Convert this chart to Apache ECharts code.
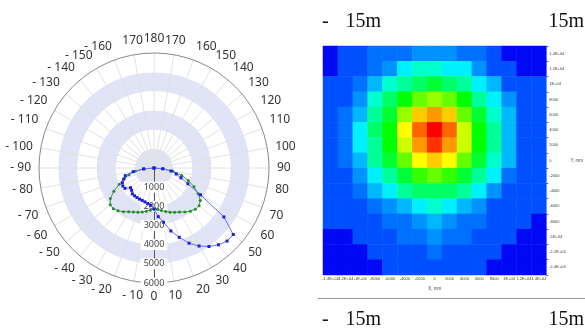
<!DOCTYPE html>
<html>
<head>
<meta charset="utf-8">
<script src="https://cdn.jsdelivr.net/npm/echarts@6/dist/echarts.min.js"></script>
<style>
  html, body { margin: 0; padding: 0; background: #fff; }
  #chart { width: 585px; height: 334px; }
</style>
</head>
<body>
<div id="chart"></div>
<script>
// 配光曲线 角度（度），负角度在左侧
const angles = [-90, -85, -80, -75, -70, -65, -60, -55, -50, -45, -40, -35, -30, -25, -20, -15, -10, -5,
  0, 5, 10, 15, 20, 25, 30, 35, 40, 45, 50, 55, 60, 65, 70, 75, 80, 85, 90];
// 绿色曲线 光强 cd
const greenCd = [0, 500, 1000, 1350, 1650, 2000, 2420, 2780, 2980, 3000, 2920, 2780, 2640, 2540, 2450, 2370, 2290, 2210,
  2140, 2180, 2250, 2350, 2450, 2550, 2650, 2800, 2950, 3050, 3070, 2950, 2650, 2300, 1900, 1500, 1000, 500, 0];
// 蓝色曲线 光强 cd
const blueCd = [0, 550, 1100, 1550, 1680, 1820, 1880, 1850, 1600, 1650, 1760, 1770, 1780, 1790, 1800, 1830, 1880, 1950,
  2140, 2550, 2870, 3400, 3850, 4330, 4700, 5000, 5230, 5390, 5400, 4450, 2800, 1950, 1500, 1200, 900, 450, 0];

// 照度分布 坐标刻度（从左到右 / 从下到上）
const xLabels = ['-1.4E+04', '-1.2E+04', '-1E+04', '-8000', '-6000', '-4000', '-2000', '0',
  '2000', '4000', '6000', '8000', '1E+04', '1.2E+04', '1.4E+04'];
const yLabels = xLabels.slice();
// 照度值，每行从上 (Y=1.4E+04) 到下 (Y=-1.4E+04)
const illumRows = [
  [5, 10, 13, 20, 22, 24, 31, 34, 31, 23, 20, 16, 5, 5, 5],
  [5, 13, 16, 21, 39, 52, 60, 62, 59, 50, 37, 19, 15, 5, 5],
  [13, 15, 21, 44, 62, 77, 87, 91, 87, 76, 59, 40, 19, 14, 11],
  [14, 18, 38, 61, 83, 101, 122, 131, 121, 100, 79, 56, 31, 16, 13],
  [15, 21, 49, 74, 98, 133, 162, 171, 161, 129, 94, 68, 42, 18, 13],
  [15, 26, 54, 80, 108, 153, 181, 201, 180, 148, 102, 74, 47, 19, 14],
  [15, 25, 53, 79, 105, 149, 177, 192, 176, 144, 101, 73, 46, 19, 14],
  [14, 20, 47, 71, 95, 125, 155, 163, 154, 121, 91, 66, 40, 18, 13],
  [14, 17, 35, 58, 79, 97, 112, 120, 111, 95, 75, 53, 28, 15, 12],
  [12, 15, 20, 41, 59, 73, 83, 87, 83, 72, 56, 37, 18, 14, 11],
  [11, 13, 15, 20, 37, 49, 57, 60, 57, 48, 34, 19, 15, 12, 10],
  [10, 11, 13, 15, 22, 28, 36, 40, 36, 28, 22, 14, 13, 11, 5],
  [5, 7, 11, 12, 14, 20, 25, 30, 25, 20, 13, 12, 10, 5, 5],
  [5, 5, 5, 11, 11, 13, 18, 22, 18, 13, 11, 11, 5, 5, 5],
  [5, 5, 5, 5, 10, 11, 12, 14, 12, 11, 10, 5, 5, 5, 5]
];
// 等值色带（蓝 -> 红）
const levelColors = ['#0008f4', '#0050ff', '#0070ff', '#0092ff', '#00b8ff', '#00f0ff', '#00ffcc',
  '#00ff99', '#00ff66', '#00ff33', '#00ff00', '#33ff00', '#66ff00', '#99ff00', '#ccff00',
  '#ffff00', '#ffcc00', '#ff9900', '#ff6600', '#ff3300', '#ff0000'];

function toPolar(values) {
  // [半径, 角度]，负角度换成 0~360
  return angles.map(function (a, i) {
    return [values[i], a < 0 ? a + 360 : a];
  });
}

function init() {
  let myChart = echarts.init(document.getElementById('chart'));

  let heatData = [];
  illumRows.forEach(function (row, r) {
    row.forEach(function (v, c) {
      heatData.push([c, illumRows.length - 1 - r, v]);
    });
  });

  let pieces = levelColors.map(function (c, k) {
    return { gte: k * 10, lt: k * 10 + 10, color: c };
  });
  pieces[pieces.length - 1] = { gte: 200, color: levelColors[levelColors.length - 1] };

  const serif = '20px "Liberation Serif", "Times New Roman", serif';

  var option = {
    animation: false,
    backgroundColor: '#fff',
    // 极坐标
    polar: {
      center: [154, 168],
      radius: 115
    },
    angleAxis: {
      type: 'value',
      min: 0,
      max: 360,
      interval: 10,
      startAngle: 270,
      clockwise: false,
      axisLine: { lineStyle: { color: '#8a8a8a', width: 1 } },
      axisTick: { show: false },
      axisLabel: {
        margin: 8,
        fontSize: 12,
        color: '#333',
        fontFamily: 'Noto Sans',
        formatter: function (v) {
          // 左上角 170 在原图中没有负号
          if (v === 190) return '170';
          return v > 180 ? '- ' + (360 - v) : String(v);
        }
      },
      splitLine: { lineStyle: { color: '#e2e2e2', width: 1 } }
    },
    radiusAxis: {
      min: 0,
      max: 6000,
      interval: 1000,
      axisLine: { lineStyle: { color: '#555', width: 1 } },
      axisTick: { show: false },
      axisLabel: {
        showMinLabel: false,
        margin: 0,
        align: 'center',
        verticalAlign: 'middle',
        fontSize: 9,
        color: '#444',
        fontFamily: 'Noto Sans',
        backgroundColor: '#fff',
        padding: [1, 3],
        formatter: function (v) { return String(v); }
      },
      splitLine: { show: false },
      splitArea: { show: true, areaStyle: { color: ['#e1e3f6', '#ffffff'] } }
    },
    // 照度图
    grid: { left: 323, top: 46, width: 230, height: 229 },
    xAxis: {
      type: 'category',
      data: xLabels,
      axisLine: { show: false },
      axisTick: { show: false },
      axisLabel: { interval: 0, fontSize: 4, color: '#444', margin: 2 },
      name: 'X, mm',
      nameLocation: 'middle',
      nameGap: 7,
      nameTextStyle: { fontSize: 4.5, color: '#444' }
    },
    yAxis: {
      type: 'category',
      data: yLabels,
      position: 'right',
      axisLine: { show: false },
      axisTick: { show: true, length: 2, lineStyle: { color: '#666' } },
      axisLabel: { interval: 0, fontSize: 4, color: '#444', margin: 3 },
      name: 'Y, mm',
      nameLocation: 'middle',
      nameRotate: 0,
      nameGap: 19,
      nameTextStyle: { fontSize: 4.5, color: '#444', align: 'left' }
    },
    visualMap: {
      type: 'piecewise',
      show: false,
      seriesIndex: 2,
      dimension: 2,
      pieces: pieces
    },
    series: [
      {
        name: 'C0-C180',
        type: 'line',
        coordinateSystem: 'polar',
        data: toPolar(greenCd),
        symbol: 'circle',
        symbolSize: 3,
        lineStyle: { color: '#3a9e46', width: 1 },
        itemStyle: { color: '#248a2c' },
        z: 3
      },
      {
        name: 'C90-C270',
        type: 'line',
        coordinateSystem: 'polar',
        data: toPolar(blueCd),
        symbol: 'rect',
        symbolSize: 3,
        lineStyle: { color: '#6b6ff2', width: 1 },
        itemStyle: { color: '#1c1ce6' },
        z: 4
      },
      {
        type: 'heatmap',
        data: heatData,
        emphasis: { disabled: true }
      }
    ],
    graphic: [
      { type: 'text', x: 322, y: 22, style: { text: '-', font: serif, fill: '#111', align: 'left', verticalAlign: 'middle', textAlign: 'left', textVerticalAlign: 'middle' } },
      { type: 'text', x: 381, y: 22, style: { text: '15m', font: serif, fill: '#111', align: 'right', verticalAlign: 'middle', textAlign: 'right', textVerticalAlign: 'middle' } },
      { type: 'text', x: 584, y: 22, style: { text: '15m', font: serif, fill: '#111', align: 'right', verticalAlign: 'middle', textAlign: 'right', textVerticalAlign: 'middle' } },
      { type: 'line', shape: { x1: 318, y1: 298.5, x2: 585, y2: 298.5 }, style: { stroke: '#9a9a9a', lineWidth: 1 } },
      { type: 'text', x: 322, y: 320, style: { text: '-', font: serif, fill: '#111', align: 'left', verticalAlign: 'middle', textAlign: 'left', textVerticalAlign: 'middle' } },
      { type: 'text', x: 381, y: 320, style: { text: '15m', font: serif, fill: '#111', align: 'right', verticalAlign: 'middle', textAlign: 'right', textVerticalAlign: 'middle' } },
      { type: 'text', x: 584, y: 320, style: { text: '15m', font: serif, fill: '#111', align: 'right', verticalAlign: 'middle', textAlign: 'right', textVerticalAlign: 'middle' } }
    ]
  };
  option && myChart.setOption(option);
}

init();
</script>
</body>
</html>
